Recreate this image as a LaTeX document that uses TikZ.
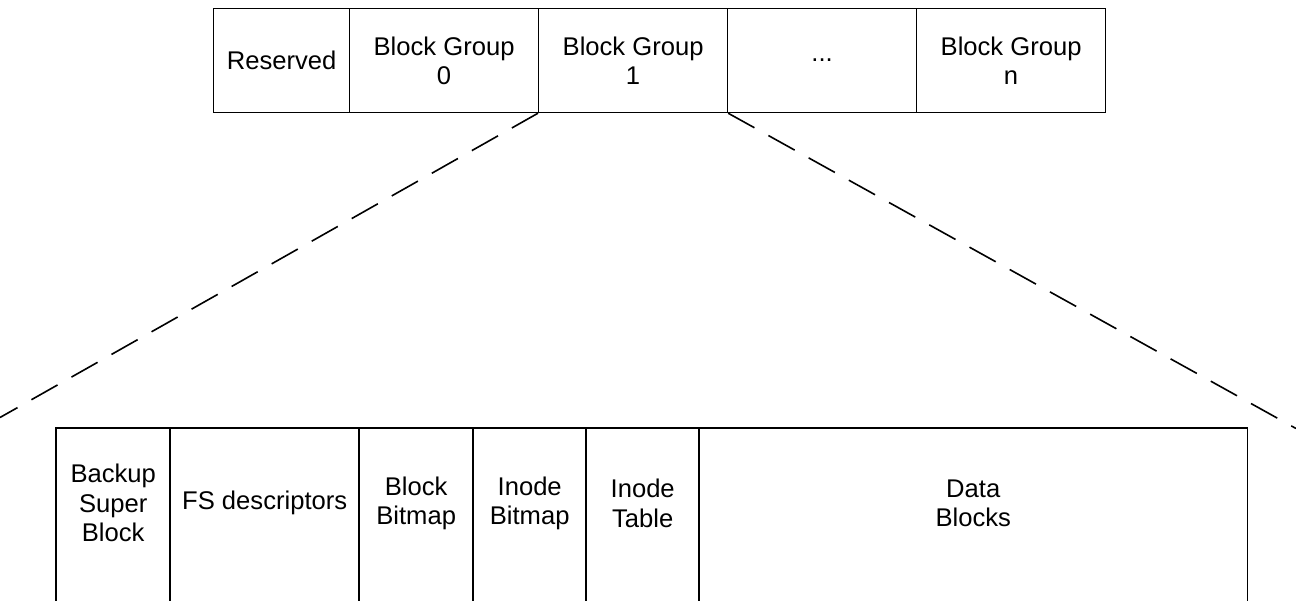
\documentclass[tikz,border=0pt]{standalone}
\usepackage{fontspec}
\setmainfont{Liberation Sans}
\begin{document}
\begin{tikzpicture}[x=1pt,y=-1pt,
  cell/.style={draw=black,line width=1.2pt,rectangle,inner sep=0pt,anchor=north west,
    minimum height=104pt,align=center,font=\fontsize{25.6}{29.5}\selectfont},
  lowcell/.style={rectangle,inner sep=0pt,anchor=north west,
    minimum height=150pt,align=center,font=\fontsize{25.6}{29.5}\selectfont},
  lowedge/.style={draw=black,line width=1.2pt},
  zoomline/.style={draw=black,line width=1.6pt,dash pattern=on 30pt off 16pt}]
\useasboundingbox (0,0) rectangle (1296,600);
\clip (0,0) rectangle (1296,600);
% top row
\node[cell,minimum width=136pt] (res) at (213,8) {Reserved};
\node[cell,minimum width=189pt] (bg0) at (349,8) {Block Group\\0};
\node[cell,minimum width=189pt] (bg1) at (538,8) {Block Group\\1};
\node[cell,minimum width=189pt] (dots) at (727,8) {...};
\node[cell,minimum width=189pt] (bgn) at (916,8) {Block Group\\n};
% bottom row
\node[lowcell,minimum width=114pt] (bsb) at (56,428) {Backup\\Super\\Block};
\node[lowcell,minimum width=189pt] (fsd) at (170,428) {FS descriptors};
\node[lowcell,minimum width=114pt] (bbm) at (359,428) {Block\\Bitmap};
\node[lowcell,minimum width=113pt] (ibm) at (473,428) {Inode\\Bitmap};
\node[lowcell,minimum width=113pt] (itb) at (586,428) {Inode\\Table};
\node[lowcell,minimum width=548pt] (dbl) at (699,428) {Data\\Blocks};
\foreach \n in {bsb,fsd,bbm,ibm,itb,dbl}{
  \draw[lowedge] ([yshift=-40pt]\n.south west) -- (\n.north west) -- (\n.north east) -- ([yshift=-40pt]\n.south east);
}
% zoom lines
\coordinate (lend) at (0,417.5);
\coordinate (rend) at (1296,428.5);
\draw[zoomline] (bg1.south west) -- (lend);
\draw[zoomline] (bg1.south east) -- (rend);
\end{tikzpicture}
\end{document}
